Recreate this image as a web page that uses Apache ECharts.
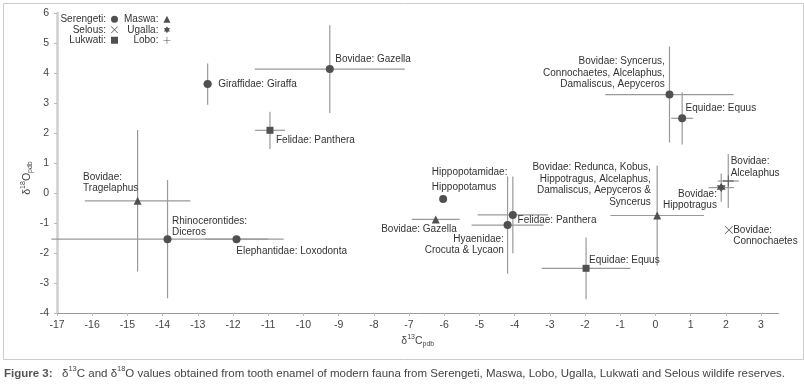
<!DOCTYPE html>
<html>
<head>
<meta charset="utf-8">
<script src="https://cdn.jsdelivr.net/npm/echarts@6/dist/echarts.min.js"></script>
<style>
html, body { margin: 0; padding: 0; background: #fff; }
#container { width: 804px; height: 384px; }
</style>
</head>
<body>
<div id="container"></div>
<script>
var dom = document.getElementById('container');
var myChart = echarts.init(dom);

// reserves (legend order: left column, right column)
var reservesLeft = ['Serengeti', 'Selous', 'Lukwati'];
var reservesRight = ['Maswa', 'Ugalla', 'Lobo'];

var pointLabels = [
    'Giraffidae: Giraffa',
    'Bovidae: Gazella',
    'Felidae: Panthera',
    'Bovidae:\nTragelaphus',
    'Rhinocerontides:\nDiceros',
    'Elephantidae: Loxodonta',
    'Hippopotamidae:\nHippopotamus',
    'Bovidae: Gazella',
    'Felidae: Panthera',
    'Hyaenidae:\nCrocuta & Lycaon',
    'Equidae: Equus',
    'Bovidae: Redunca, Kobus,\nHippotragus, Alcelaphus,\nDamaliscus, Aepyceros &\nSyncerus',
    'Bovidae:\nHippotragus',
    'Bovidae:\nAlcelaphus',
    'Bovidae:\nConnochaetes',
    'Bovidae: Syncerus,\nConnochaetes, Alcelaphus,\nDamaliscus, Aepyceros',
    'Equidae: Equus'
];
var pointReserve = [
    'Serengeti', 'Serengeti', 'Lukwati', 'Maswa', 'Serengeti', 'Serengeti',
    'Serengeti', 'Maswa', 'Serengeti', 'Serengeti', 'Lukwati', 'Maswa',
    'Ugalla', 'Lobo', 'Selous', 'Serengeti', 'Serengeti'
];
// d13C
var pointX = [-12.72, -9.25, -10.95, -14.71, -13.86, -11.9, -6.03, -6.24, -4.05, -4.2, -1.97, 0.05, 1.87, 2.07, 2.09, 0.4, 0.76];
// d18O
var pointY = [3.63, 4.13, 2.09, -0.26, -1.54, -1.54, -0.2, -0.88, -0.73, -1.07, -2.51, -0.75, 0.18, 0.4, -1.23, 3.28, 2.49];
// error bars (+/-)
var pointXErr = [0.13, 2.13, 0.43, 1.5, 3.3, 0.9, 0, 0.68, 1.0, 1.02, 1.26, 1.33, 0.36, 0.3, 0, 1.82, 0.31];
var pointYErr = [0.69, 1.46, 0.62, 2.36, 1.97, 0, 0, 0, 1.28, 1.62, 1.03, 1.67, 0.47, 0.9, 0, 1.6, 0.87];

var xTickValues = [-17, -16, -15, -14, -13, -12, -11, -10, -9, -8, -7, -6, -5, -4, -3, -2, -1, 0, 1, 2, 3];

// label placement: [dx, dy, align, lineHeight]
var labelLayout = [
    [10.5, 0, 'left'], [5.5, -10, 'left'], [6, 10.4, 'left'], [-54.5, -18, 'left'],
    [4.5, -12.5, 'left'], [-0.2, 12, 'left'], [-11.3, -19, 'left', 15], [21, 10, 'right'],
    [4.7, 5.7, 'left'], [-3.7, 19.5, 'right'], [3, -8, 'left'], [-6.3, -30.6, 'right'],
    [-4.3, 12.3, 'right'], [2.4, -14, 'left'], [4.2, 6, 'left'], [-4.7, -21.4, 'right'],
    [3.4, -10, 'left']
];

var symbols = {
    Serengeti: ['circle', 8],
    Selous: ['path://M0.6,0L5,4.4L9.4,0L10,0.6L5.6,5L10,9.4L9.4,10L5,5.6L0.6,10L0,9.4L4.4,5L0,0.6Z', 8],
    Lukwati: ['rect', 7],
    Maswa: ['triangle', 8],
    Ugalla: ['path://M5,0L9.33,7.5L0.67,7.5Z M5,10L0.67,2.5L9.33,2.5Z', 9],
    Lobo: ['path://M4.6,0H5.4V4.6H10V5.4H5.4V10H4.6V5.4H0V4.6H4.6Z', 11]
};

var markColor = '#505050';
var font = '"Liberation Sans", Arial, sans-serif';

function renderErrorBar(params, api) {
    var x = api.value(0), y = api.value(1), ex = api.value(2), ey = api.value(3);
    var style = { stroke: '#999', lineWidth: 1.2 };
    var children = [];
    if (ex > 0) {
        var a = api.coord([x - ex, y]), b = api.coord([x + ex, y]);
        children.push({ type: 'line', shape: { x1: a[0], y1: a[1], x2: b[0], y2: b[1] }, style: style });
    }
    if (ey > 0) {
        var c = api.coord([x, y - ey]), d = api.coord([x, y + ey]);
        children.push({ type: 'line', shape: { x1: c[0], y1: c[1], x2: d[0], y2: d[1] }, style: style });
    }
    return { type: 'group', children: children };
}

var errData = pointX.map(function (x, i) {
    return [x, pointY[i], pointXErr[i], pointYErr[i]];
});

var series = [{
    type: 'custom',
    name: 'err',
    renderItem: renderErrorBar,
    encode: { x: 0, y: 1 },
    data: errData,
    z: 1,
    silent: true
}];

reservesLeft.concat(reservesRight).forEach(function (r) {
    var data = [];
    pointX.forEach(function (x, i) {
        if (pointReserve[i] !== r) return;
        var lay = labelLayout[i];
        data.push({
            value: [x, pointY[i]],
            label: {
                formatter: pointLabels[i],
                offset: [lay[0], lay[1]],
                align: lay[2],
                lineHeight: lay[3] || 11.5
            }
        });
    });
    series.push({
        type: 'scatter',
        name: r,
        symbol: symbols[r][0],
        symbolSize: symbols[r][1],
        itemStyle: { color: markColor, opacity: 1 },
        z: 3,
        label: {
            show: true,
            position: 'inside',
            verticalAlign: 'middle',
            color: '#333',
            fontSize: 10,
            fontFamily: font
        },
        emphasis: { disabled: true },
        data: data
    });
});

function legendCfg(names, left, width) {
    return {
        data: names,
        orient: 'vertical',
        left: left,
        top: 14,
        padding: 0,
        align: 'right',
        itemWidth: 7,
        itemHeight: 7,
        itemGap: 0,
        selectedMode: false,
        formatter: function (n) { return n + ':'; },
        textStyle: {
            fontFamily: font, fontSize: 10, color: '#333',
            width: width, align: 'right', lineHeight: 10.5
        }
    };
}

var subRich = {
    d: { fontFamily: font, fontSize: 10.5, color: '#444', lineHeight: 14 },
    sup: { fontFamily: font, fontSize: 7, color: '#444', verticalAlign: 'top', lineHeight: 8 },
    sub: { fontFamily: font, fontSize: 7, color: '#444', verticalAlign: 'bottom', lineHeight: 8 }
};

var option = {
    backgroundColor: '#fff',
    animation: false,
    grid: { left: 57, right: 25.4, top: 13, bottom: 71 },
    legend: [legendCfg(reservesLeft, 59, 47), legendCfg(reservesRight, 124, 33)],
    xAxis: {
        type: 'value',
        min: -17,
        max: 3.5,
        interval: 1,
        name: '{d|δ}{sup|13}{d|C}{sub|pdb}',
        nameLocation: 'middle',
        nameGap: 21,
        nameMoveOverlap: false,
        nameTextStyle: { rich: subRich },
        axisLine: { show: true, onZero: false, lineStyle: { color: '#999', width: 1 } },
        axisTick: { show: true, length: 3, customValues: xTickValues, lineStyle: { color: '#bbb' } },
        axisLabel: {
            customValues: xTickValues,
            margin: 7,
            color: '#444', fontSize: 10.5, fontFamily: font
        },
        splitLine: { show: false }
    },
    yAxis: {
        type: 'value',
        min: -4,
        max: 6,
        interval: 1,
        name: '{d|δ}{sup|18}{d|O}{sub|pdb}',
        nameLocation: 'middle',
        nameGap: 23,
        nameMoveOverlap: false,
        nameTextStyle: { rich: subRich, padding: [0, 30, 0, 0] },
        axisLine: { show: true, onZero: false, lineStyle: { color: '#cfcfcf', width: 2.5 } },
        axisTick: { show: true, length: 3, lineStyle: { color: '#bbb' } },
        axisLabel: { margin: 8, color: '#444', fontSize: 10.5, fontFamily: font },
        splitLine: { show: false }
    },
    graphic: {
        elements: [{
            type: 'rect',
            left: 1, top: 1,
            shape: { width: 800, height: 356 },
            style: { fill: 'none', stroke: '#ccc', lineWidth: 1 },
            z: -1
        }, {
            type: 'text',
            left: 4, top: 368,
            style: { text: 'Figure 3:', font: 'bold 11.5px ' + font, fill: '#555' }
        }, {
            type: 'text',
            left: 62, top: 365,
            style: {
                text: '{t|δ}{s|13}{t|C and δ}{s|18}{t|O values obtained from tooth enamel of modern fauna from Serengeti, Maswa, Lobo, Ugalla, Lukwati and Selous wildife reserves.}',
                rich: {
                    t: { font: '11.5px ' + font, fill: '#444', lineHeight: 17 },
                    s: { font: '7.5px ' + font, fill: '#444', verticalAlign: 'top', lineHeight: 10 }
                }
            }
        }]
    },
    series: series
};

myChart.setOption(option);
</script>
</body>
</html>
